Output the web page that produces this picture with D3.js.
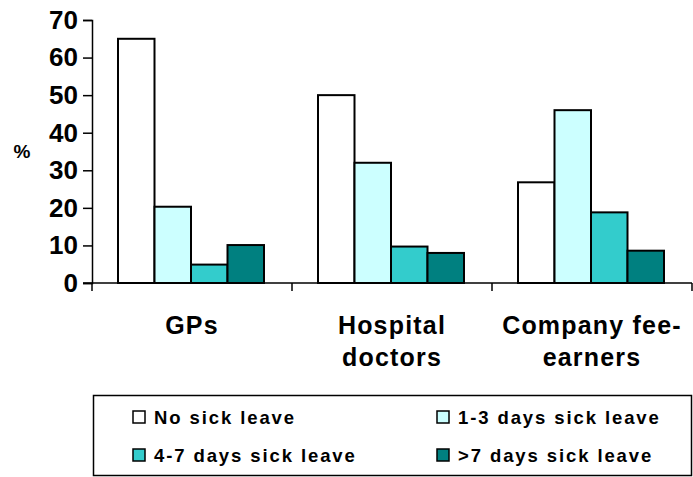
<!DOCTYPE html>
<html>
<head>
<meta charset="utf-8">
<script src="https://cdn.jsdelivr.net/npm/d3@7"></script>
<style>
  body { margin: 0; background: #fff; }
  text { font-family: "Liberation Sans", Arial, sans-serif; font-weight: bold; fill: #000; }
</style>
</head>
<body>
<div class="chart"></div>
<script>
// data
var groups = ['GPs', 'Hospital doctors', 'Company fee-earners'];
var groupLines = [['GPs'], ['Hospital', 'doctors'], ['Company fee-', 'earners']];
var series = ['No sick leave', '1-3 days sick leave', '4-7 days sick leave', '>7 days sick leave'];
var colors = ['#FFFFFF', '#CCFFFF', '#33CCCC', '#008080'];
var noLeave = [65, 50, 26.8];
var days1to3 = [20.3, 32, 46];
var days4to7 = [4.9, 9.7, 18.8];
var days7plus = [10.1, 8, 8.6];
var yTicks = [0, 10, 20, 30, 40, 50, 60, 70];

var values = [noLeave, days1to3, days4to7, days7plus];

// plot area
var W = 693, H = 477;
var plotL = 92, plotR = 692, plotT = 20, plotB = 283;

var svg = d3.select('.chart').append('svg')
  .attr('width', W)
  .attr('height', H);

var x0 = d3.scaleBand().domain(groups).range([plotL, plotR]);
var x1 = d3.scaleBand().domain(series).range([26, 200 - 28]);
var y = d3.scaleLinear().domain([0, 70]).range([plotB, plotT]);

// bars
groups.forEach(function(g, gi) {
  svg.append('g')
    .attr('transform', 'translate(' + x0(g) + ',0)')
    .selectAll('rect')
    .data(series)
    .enter()
    .append('rect')
    .attr('x', function(s) { return x1(s); })
    .attr('y', function(s, si) { return y(values[si][gi]); })
    .attr('width', x1.bandwidth())
    .attr('height', function(s, si) { return plotB - y(values[si][gi]); })
    .attr('fill', function(s, si) { return colors[si]; })
    .attr('stroke', '#000')
    .attr('stroke-width', 2);
});

// y axis
var yAxis = svg.append('g')
  .attr('transform', 'translate(' + plotL + ',0)')
  .call(d3.axisLeft(y).tickValues(yTicks).tickSize(9).tickPadding(5));
yAxis.select('.domain').attr('stroke', '#000').attr('stroke-width', 1.5);
yAxis.selectAll('.tick line').attr('stroke', '#000').attr('stroke-width', 1.5);
yAxis.selectAll('.tick text')
  .style('font-size', '26px')
  .style('font-family', '"Liberation Sans", Arial, sans-serif')
  .style('font-weight', 'bold')
  .attr('fill', '#000');

// x axis
var xAxis = svg.append('g')
  .attr('transform', 'translate(0,' + plotB + ')');
xAxis.append('line')
  .attr('x1', plotL - 9).attr('x2', plotR)
  .attr('stroke', '#000').attr('stroke-width', 1.5);
xAxis.selectAll('line.cat')
  .data(groups.concat(['end']))
  .enter()
  .append('line')
  .attr('class', 'cat')
  .attr('x1', function(d, i) { return plotL + i * x0.bandwidth(); })
  .attr('x2', function(d, i) { return plotL + i * x0.bandwidth(); })
  .attr('y1', 0).attr('y2', 8)
  .attr('stroke', '#000').attr('stroke-width', 1.5);

groups.forEach(function(g, gi) {
  var cx = x0(g) + x0.bandwidth() / 2;
  var t = svg.append('text')
    .attr('x', cx)
    .attr('y', 334)
    .attr('text-anchor', 'middle')
    .style('font-size', '25px')
    .style('letter-spacing', '1.2px');
  groupLines[gi].forEach(function(line, li) {
    t.append('tspan')
      .attr('x', cx)
      .attr('dy', li === 0 ? 0 : 32)
      .text(line);
  });
});

// y label
svg.append('text')
  .attr('x', 22).attr('y', 158)
  .attr('text-anchor', 'middle')
  .style('font-size', '19px')
  .text('%');

// legend
svg.append('rect')
  .attr('x', 93.5).attr('y', 395.5)
  .attr('width', 598).attr('height', 80)
  .attr('fill', 'none')
  .attr('stroke', '#000')
  .attr('stroke-width', 1.5);

var legendPos = [[133, 411], [437, 411], [133, 449], [437, 449]];
var legend = svg.selectAll('g.leg')
  .data(series)
  .enter()
  .append('g')
  .attr('class', 'leg')
  .attr('transform', function(d, i) { return 'translate(' + legendPos[i][0] + ',' + legendPos[i][1] + ')'; });
legend.append('rect')
  .attr('width', 12).attr('height', 12)
  .attr('fill', function(d, i) { return colors[i]; })
  .attr('stroke', '#000')
  .attr('stroke-width', 1.5);
legend.append('text')
  .attr('x', 21).attr('y', 13)
  .style('font-size', '18.5px')
  .style('letter-spacing', '1.9px')
  .text(function(d) { return d; });
</script>
</body>
</html>
